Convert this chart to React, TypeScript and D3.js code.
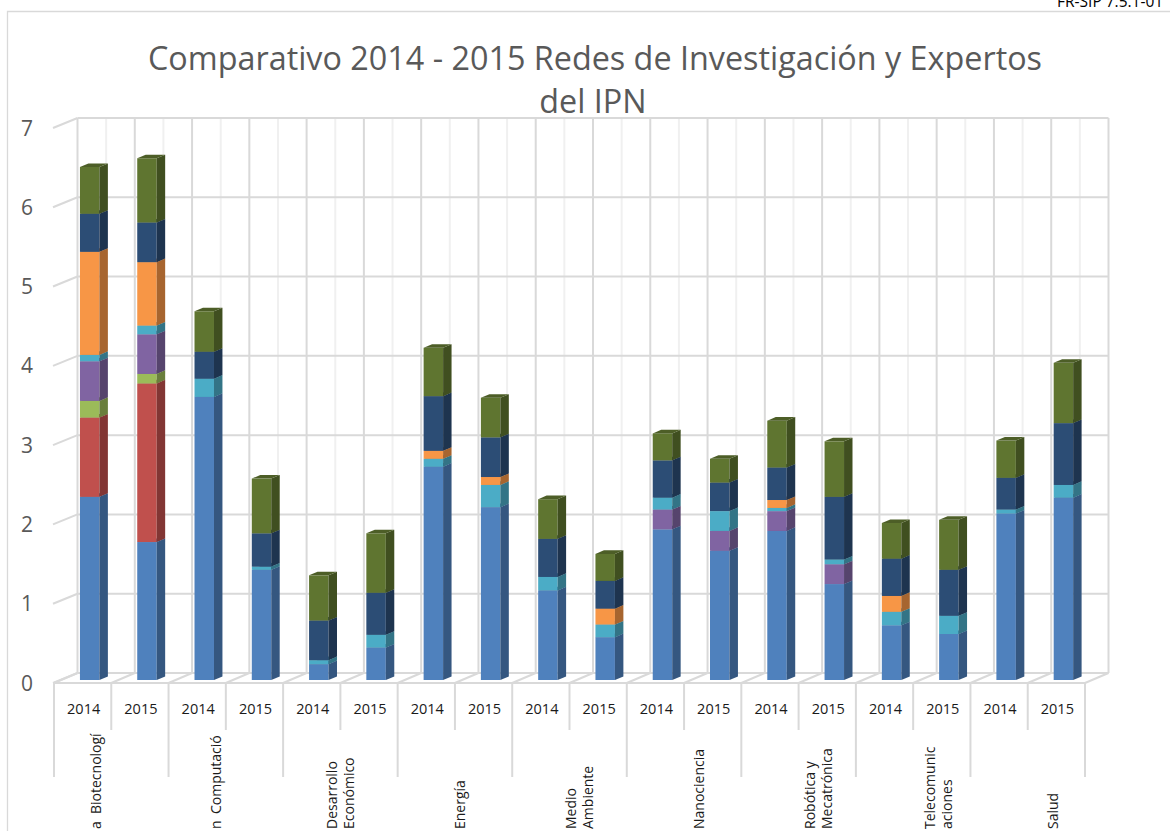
import React, { useRef, useLayoutEffect, useState } from 'react';
import * as d3 from 'd3';

// categories (two bars per group: 2014, 2015)
const groups = ['Biotecnología', 'Computación', 'Desarrollo Económico', 'Energía', 'Medio Ambiente',
  'Nanociencia', 'Robótica y Mecatrónica', 'Telecomunicaciones', 'Salud'];
const groupLabelLines = [['Biotecnologí', 'a'], ['Computació', 'n'], ['Desarrollo', 'Económico'], ['Energía'],
  ['Medio', 'Ambiente'], ['Nanociencia'], ['Robótica y', 'Mecatrónica'], ['Telecomunic', 'aciones'], ['Salud']];
const years = ['2014', '2015'];
const yTicks = [0, 1, 2, 3, 4, 5, 6, 7];

// stacked series, bottom to top, one value per bar (B14, B15, C14, C15, ...)
const serieAzul = [2.31, 1.74, 3.57, 1.39, 0.20, 0.41, 2.69, 2.18, 1.13, 0.54, 1.90, 1.63, 1.88, 1.21, 0.69, 0.58, 2.10, 2.30];
const serieRoja = [1.0, 2.0, 0, 0, 0, 0, 0, 0, 0, 0, 0, 0, 0, 0, 0, 0, 0, 0];
const serieVerdeClaro = [0.21, 0.12, 0, 0, 0, 0, 0, 0, 0, 0, 0, 0, 0, 0, 0, 0, 0, 0];
const serieMorada = [0.5, 0.5, 0, 0, 0, 0, 0, 0, 0, 0, 0.25, 0.25, 0.25, 0.25, 0, 0, 0, 0];
const serieCian = [0.08, 0.11, 0.23, 0.04, 0.05, 0.16, 0.10, 0.28, 0.17, 0.16, 0.15, 0.25, 0.04, 0.06, 0.17, 0.23, 0.05, 0.16];
const serieNaranja = [1.3, 0.8, 0, 0, 0, 0, 0.10, 0.10, 0, 0.20, 0, 0, 0.10, 0, 0.20, 0, 0, 0];
const serieMarino = [0.48, 0.50, 0.34, 0.42, 0.50, 0.53, 0.69, 0.50, 0.48, 0.35, 0.47, 0.36, 0.41, 0.79, 0.47, 0.58, 0.40, 0.78];
const serieOliva = [0.59, 0.81, 0.51, 0.69, 0.57, 0.75, 0.61, 0.50, 0.50, 0.34, 0.34, 0.30, 0.59, 0.70, 0.45, 0.63, 0.47, 0.76];

const seriesKeys = ['azul', 'roja', 'verdeClaro', 'morada', 'cian', 'naranja', 'marino', 'oliva'];
const seriesValues = [serieAzul, serieRoja, serieVerdeClaro, serieMorada, serieCian, serieNaranja, serieMarino, serieOliva];
const seriesColors = ['#4F81BD', '#C0504D', '#9BBB59', '#8064A2', '#4BACC6', '#F79646', '#2C4D75', '#5F7530'];

const W = 1170;
const H = 831;
const FRONT_Y = 683;
const X0 = 54;
const X1 = 1085;
const DX = 23.5; // full floor depth offset
const DY = -10;
const UNIT = 79.29;
const BAR_D0 = 0.3; // bar front / back depth fraction
const BAR_D1 = 0.66;
const GRID = '#D9D9D9';
const FONT = '"Open Sans", sans-serif';
const TITLE_WIDTH = 894;

const barKeys = groups.flatMap(g => years.map(y => `${g}|${y}`));

export default function App() {
  const titleRef = useRef<SVGTextElement | null>(null);
  const [titleSize, setTitleSize] = useState(30);

  useLayoutEffect(() => {
    if (!titleRef.current) return;
    const len = titleRef.current.getComputedTextLength();
    if (len > 0) setTitleSize(s => +(s * TITLE_WIDTH / len).toFixed(2));
  }, []);

  const x = d3.scaleBand<string>().domain(barKeys).range([X0, X1]).paddingInner(0.66).paddingOuter(0.33);
  const slot = d3.scaleBand<string>().domain(barKeys).range([X0, X1]);
  const grp = d3.scaleBand<string>().domain(groups).range([X0, X1]);
  const y = d3.scaleLinear().domain([0, 7]).range([FRONT_Y, FRONT_Y - 7 * UNIT]);
  const step = slot.step();

  const rows = barKeys.map((k, i) => {
    const r: Record<string, any> = { key: k };
    seriesKeys.forEach((s, j) => { r[s] = seriesValues[j][i]; });
    return r;
  });
  const stacked = d3.stack<any>().keys(seriesKeys)(rows);

  const pts = (p: number[][]) => p.map(q => q.join(',')).join(' ');
  const bw = x.bandwidth();
  const dd = BAR_D1 - BAR_D0;

  const bars: React.ReactNode[] = [];
  barKeys.forEach((k, i) => {
    const bx = x(k)! + BAR_D0 * DX;
    stacked.forEach((layer, j) => {
      const [v0, v1] = layer[i];
      if (v1 - v0 <= 0) return;
      const yb = y(v0) + BAR_D0 * DY;
      const yt = y(v1) + BAR_D0 * DY;
      const c = seriesColors[j];
      const side = d3.color(c)!.darker(1.1).formatHex();
      const top = d3.color(c)!.darker(0.6).formatHex();
      bars.push(
        <g key={`${k}-${j}`}>
          <rect x={bx} y={yt} width={bw} height={yb - yt} fill={c} />
          <polygon fill={side} points={pts([[bx + bw, yt], [bx + bw, yb], [bx + bw + dd * DX, yb + dd * DY], [bx + bw + dd * DX, yt + dd * DY]])} />
          <polygon fill={top} points={pts([[bx, yt], [bx + bw, yt], [bx + bw + dd * DX, yt + dd * DY], [bx + dd * DX, yt + dd * DY]])} />
        </g>
      );
    });
  });

  const boundaries = d3.range(barKeys.length + 1).map(k => X0 + k * step);

  return (
    <div>
      <style>{'body{margin:0}'}</style>
      <svg width={W} height={H} style={{ display: 'block', fontFamily: FONT }}>
        <rect width={W} height={H} fill="#fff" />
        <text x={1057} y={7} fontSize={15.5} fill="#000">FR-SIP 7.5.1-01</text>
        <path d={`M7.5,${H}V11.5H${W}`} fill="none" stroke={GRID} strokeWidth={1.3} />

        {/* title */}
        <text ref={titleRef} x={595} y={70} textAnchor="middle" fontSize={titleSize} fill="#595959">
          Comparativo 2014 - 2015 Redes de Investigación y Expertos
        </text>
        <text x={593} y={113} textAnchor="middle" fontSize={titleSize} fill="#595959">del IPN</text>

        {/* back wall: minor verticals at slot centres, major at slot borders */}
        {barKeys.map(k => (
          <line key={`mv-${k}`} x1={slot(k)! + step / 2 + DX} x2={slot(k)! + step / 2 + DX}
            y1={y(7) + DY} y2={y(0) + DY} stroke="#F0F0F0" strokeWidth={2} />
        ))}
        {boundaries.map((bx, k) => (
          <line key={`v-${k}`} x1={bx + DX} x2={bx + DX} y1={y(7) + DY} y2={y(0) + DY} stroke={GRID} strokeWidth={2} />
        ))}
        {yTicks.map(t => (
          <g key={`h-${t}`}>
            <line x1={X0 + DX} x2={X1 + DX} y1={y(t) + DY} y2={y(t) + DY} stroke={GRID} strokeWidth={2} />
            <line x1={X0 - 1} x2={X0 + DX} y1={y(t)} y2={y(t) + DY} stroke={GRID} strokeWidth={2} />
          </g>
        ))}
        {/* floor */}
        {boundaries.map((bx, k) => (
          <line key={`f-${k}`} x1={bx} x2={bx + DX} y1={FRONT_Y} y2={FRONT_Y + DY} stroke={GRID} strokeWidth={2} />
        ))}

        {/* y labels */}
        {yTicks.map(t => (
          <text key={`yl-${t}`} x={33} y={y(t)} dy="0.36em" textAnchor="end" fontSize={21} fill="#595959">{t}</text>
        ))}

        {bars}

        {/* category axis */}
        <line x1={X0} x2={X1} y1={FRONT_Y} y2={FRONT_Y} stroke={GRID} strokeWidth={2} />
        {boundaries.map((bx, k) => (
          <line key={`d-${k}`} x1={bx} x2={bx} y1={FRONT_Y} y2={k % 2 === 0 ? 777 : 730} stroke={GRID} strokeWidth={2} />
        ))}
        {barKeys.map(k => (
          <text key={`yr-${k}`} x={slot(k)! + step / 2 + 1} y={709} dy="0.36em" textAnchor="middle" fontSize={14.5} fill="#1a1a1a">
            {k.split('|')[1]}
          </text>
        ))}
        {groups.map((g, i) => {
          const lines = groupLabelLines[i];
          const cols: string[][] = [];
          lines.forEach(l => {
            if (l.length < 3 && cols.length) cols[cols.length - 1].push(l);
            else cols.push([l]);
          });
          const cx = grp(g)! + grp.bandwidth() / 2 + 5 + 5 * (i - 4) + (i > 1 && i < 8 ? 5 : 0);
          const gap = 17;
          return cols.map((col, ci) => {
            const lx = cx + (ci - (cols.length - 1) / 2) * gap;
            return col.map((txt, ri) => {
              // short tail of a wrapped word sits at the bottom of the same column
              const start = col.length > 1 && ri === 0 ? 814 : 829;
              return (
                <text key={`gl-${i}-${ci}-${ri}`} transform={`translate(${lx},${start}) rotate(-90)`}
                  dy="0.36em" fontSize={14} fill="#1a1a1a">{txt}</text>
              );
            });
          });
        })}
      </svg>
    </div>
  );
}
